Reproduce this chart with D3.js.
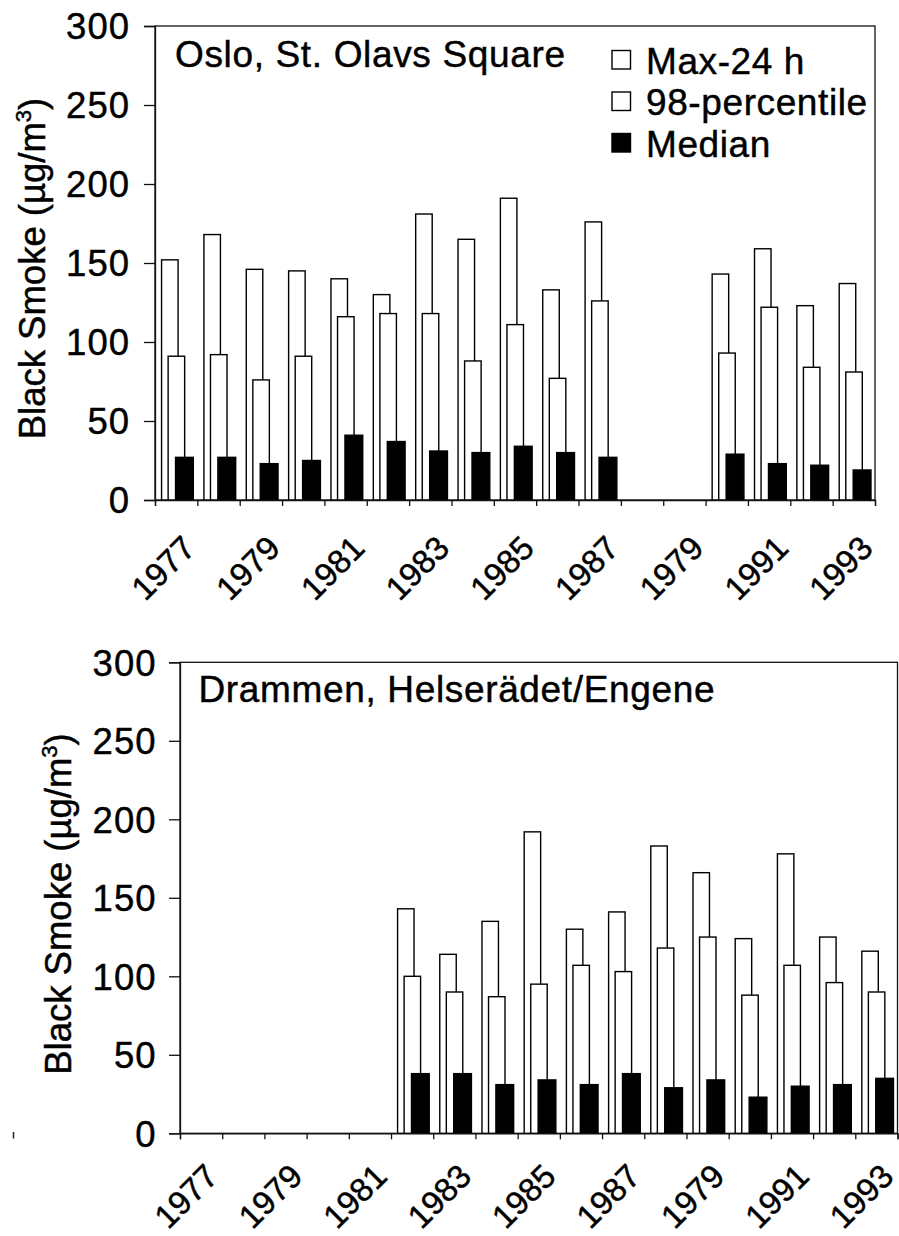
<!DOCTYPE html>
<html>
<head>
<meta charset="utf-8">
<script src="https://cdn.jsdelivr.net/npm/d3@7/dist/d3.min.js"></script>
<style>
  html, body { margin: 0; padding: 0; background: #fff; }
  svg { display: block; }
  text { font-family: "Liberation Sans", Arial, sans-serif; fill: #000; stroke: #000; stroke-width: 0.45px; }
</style>
</head>
<body>
<script>
// Categories (years) shared by both panels
const years = ["1977","1978","1979","1980","1981","1982","1983","1984","1985",
               "1986","1987","1988","1989","1990","1991","1992","1993"];
// Labels printed under every second year, as they appear on the axis
const tickLabels = ["1977","1979","1981","1983","1985","1987","1979","1991","1993"];
const yTicks = [0, 50, 100, 150, 200, 250, 300];

// Oslo, St. Olavs Square (µg/m³); null = no measurements
const osloMax = [152, 168, 146, 145, 140, 130, 181, 165, 191, 133, 176, null, null, 143, 159, 123, 137];
const osloP98 = [91, 92, 76, 91, 116, 118, 118, 88, 111, 77, 126, null, null, 93, 122, 84, 81];
const osloMed = [27, 27, 23, 25, 41, 37, 31, 30, 34, 30, 27, null, null, 29, 23, 22, 19];

// Drammen, Helserädet/Engene (µg/m³)
const dramMax = [null, null, null, null, null, 143, 114, 135, 192, 130, 141, 183, 166, 124, 178, 125, 116];
const dramP98 = [null, null, null, null, null, 100, 90, 87, 95, 107, 103, 118, 125, 88, 107, 96, 90];
const dramMed = [null, null, null, null, null, 38, 38, 31, 34, 31, 38, 29, 34, 23, 30, 31, 35];

const seriesNames = ["Max-24 h", "98-percentile", "Median"];

const W = 899, H = 1236;
const svg = d3.select("body").append("svg").attr("width", W).attr("height", H);

// bar layout inside a year slot, as fractions of the slot width
const barSpec = [
  { off: 0.155, w: 0.39, fill: "#fff" },
  { off: 0.31,  w: 0.39, fill: "#fff" },
  { off: 0.485, w: 0.42, fill: "#000" }
];

function panel(cfg) {
  const g = svg.append("g");
  const y = d3.scaleLinear().domain([0, 300]).range([cfg.bottom, cfg.top]);
  const x = d3.scaleBand().domain(years).range([cfg.left, cfg.right]).padding(0);
  const xEdge = d3.scaleLinear().domain([0, years.length]).range([cfg.left, cfg.right]);
  const bw = x.bandwidth();

  // frame
  g.append("rect")
    .attr("x", cfg.left).attr("y", cfg.top)
    .attr("width", cfg.right - cfg.left).attr("height", cfg.bottom - cfg.top)
    .attr("fill", "none").attr("stroke", "#111").attr("stroke-width", 1.3);

  // bars: max, 98-percentile, median
  [cfg.max, cfg.p98, cfg.med].forEach((vals, si) => {
    const spec = barSpec[si];
    g.append("g").selectAll("rect")
      .data(years.map((yr, i) => ({ yr, v: vals[i] })).filter(d => d.v != null))
      .join("rect")
      .attr("x", d => x(d.yr) + spec.off * bw)
      .attr("width", spec.w * bw)
      .attr("y", d => y(d.v))
      .attr("height", d => y(0) - y(d.v))
      .attr("fill", spec.fill)
      .attr("stroke", "#000")
      .attr("stroke-width", 1.4);
  });

  // y axis
  const ya = g.append("g")
    .attr("transform", `translate(${cfg.left},0)`)
    .call(d3.axisLeft(y).tickValues(yTicks).tickSize(11).tickPadding(cfg.yPad).tickFormat(d3.format("d")));
  ya.select(".domain").attr("stroke", "#111").attr("stroke-width", 1.3);
  ya.selectAll(".tick line").attr("stroke", "#111").attr("stroke-width", 1.3);
  ya.selectAll("text")
    .attr("font-size", 36.5)
    .attr("letter-spacing", 1)
    .attr("font-family", "Liberation Sans, Arial, sans-serif")
    .attr("dy", "0.35em");

  // x axis tick marks on the slot boundaries
  const xt = g.append("g")
    .attr("transform", `translate(0,${cfg.bottom})`)
    .call(d3.axisBottom(xEdge).tickValues(d3.range(years.length + 1)).tickSize(6).tickFormat(""));
  xt.select(".domain").attr("stroke", "#111").attr("stroke-width", 1.3);
  xt.selectAll(".tick line").attr("stroke", "#111").attr("stroke-width", 1.3);

  // rotated year labels on every second year
  const labeled = years.filter((d, i) => i % 2 === 0);
  const xl = g.append("g")
    .attr("transform", `translate(0,${cfg.bottom})`)
    .call(d3.axisBottom(x).tickValues(labeled).tickSize(0)
      .tickFormat(d => tickLabels[labeled.indexOf(d)]));
  xl.select(".domain").remove();
  xl.selectAll("text")
    .attr("font-size", 33)
    .attr("font-family", "Liberation Sans, Arial, sans-serif")
    .attr("text-anchor", "end")
    .attr("y", 0).attr("dy", 0)
    .attr("transform", `translate(${cfg.labelDx},${cfg.labelDy}) rotate(-45)`);

  // y axis title
  const t = g.append("text")
    .attr("transform", `translate(${cfg.titleX},${cfg.titleY}) rotate(-90)`)
    .attr("text-anchor", "middle")
    .attr("font-size", 36.5);
  t.append("tspan").text("Black Smoke (µg/m");
  t.append("tspan").attr("font-size", 22).attr("dy", -14).text("3");
  t.append("tspan").attr("dy", 14).text(")");

  // panel caption
  g.append("text")
    .attr("x", cfg.left + cfg.capDx).attr("y", cfg.capY)
    .attr("font-size", 37)
    .attr("letter-spacing", 0.65)
    .text(cfg.caption);

  return { g, y };
}

const osloPanel = panel({
  left: 155, right: 875, top: 26, bottom: 500, yPad: 14, labelDx: 21, labelDy: 50,
  max: osloMax, p98: osloP98, med: osloMed,
  titleX: 45, titleY: 268.5,
  caption: "Oslo, St. Olavs Square", capDx: 20, capY: 66.5
});

panel({
  left: 180, right: 897.5, top: 662.3, bottom: 1133.3, yPad: 12.5, labelDx: 19, labelDy: 45,
  max: dramMax, p98: dramP98, med: dramMed,
  titleX: 71, titleY: 904,
  caption: "Drammen, Helserädet/Engene", capDx: 18.5, capY: 702
});

// legend in the upper panel
const legend = osloPanel.g.append("g");
const legendFill = ["#fff", "#fff", "#000"];
seriesNames.forEach((name, i) => {
  const row = legend.append("g").attr("transform", `translate(612,${50.5 + i * 41.5})`);
  row.append("rect").attr("width", 18.5).attr("height", 18.5)
    .attr("fill", legendFill[i]).attr("stroke", "#000").attr("stroke-width", 1.4);
  row.append("text").attr("x", 34).attr("y", 23).attr("font-size", 37)
    .attr("letter-spacing", 0.6).text(name);
});

// small stray tick at the lower left margin
svg.append("line").attr("x1", 13.5).attr("x2", 13.5).attr("y1", 1132).attr("y2", 1138.5)
  .attr("stroke", "#222").attr("stroke-width", 1.5);
</script>
</body>
</html>
